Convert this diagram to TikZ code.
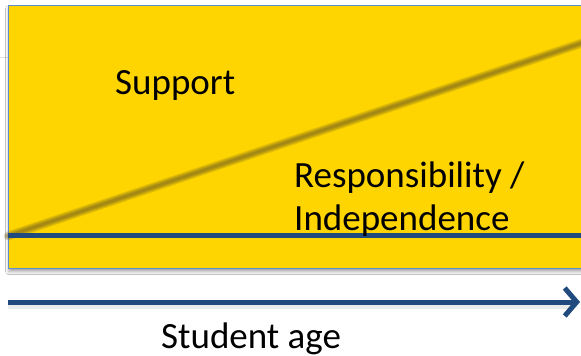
\documentclass[tikz,border=0pt]{standalone}
\usepackage{fontspec}
\setmainfont{Carlito}
\usetikzlibrary{arrows.meta,shadows.blur}
\definecolor{gold}{RGB}{254,213,0}
\definecolor{navy}{RGB}{33,74,126}
\definecolor{edgeblue}{RGB}{96,142,205}
\definecolor{diag}{RGB}{120,100,30}
\begin{document}
\begin{tikzpicture}[x=1pt,y=-1pt,
  lbl/.style={font=\fontsize{37}{43}\selectfont, inner sep=0pt, anchor=base west, text=black},
  panelbox/.style={draw=edgeblue, fill=gold, line width=1.3pt, inner sep=0pt, anchor=north west,
     blur shadow={shadow xshift=0pt, shadow yshift=-3pt, shadow blur radius=3pt, shadow opacity=35}},
  baseline/.style={draw=navy, line width=4.5pt},
  agearrow/.style={draw=navy, line width=5pt, -{Straight Barb[length=12pt,width=28pt]}},
  shade/.style={draw=diag, opacity=0.2, line cap=round}]
\useasboundingbox (0,0) rectangle (581,356);
\clip (0,0) rectangle (581,356);
\fill[white] (0,0) rectangle (581,356);
\coordinate (g1) at (0,57);
\coordinate (g2) at (8,57);
\draw[black!12, line width=0.8pt] (g1) -- (g2);
\node[panelbox, minimum width=600pt, minimum height=263pt] (panel) at (8,5) {};
% diagonal (blurred)
\coordinate (d1) at (8,236);
\coordinate (d2) at (600,37);
\foreach \w in {9,7,5,3.5,2} {\draw[shade, line width=\w pt] (d1) -- (d2);}
% horizontal line inside
\coordinate (h1) at (8,235.5);
\coordinate (h2) at (600,235.5);
\draw[baseline] (h1) -- (h2);
% arrow
\coordinate (a1) at (8,302);
\coordinate (a2) at (580,302);
\draw[black!15, line width=5pt, opacity=0.5] (8,306) -- (570,306);
\draw[agearrow] (a1) -- (a2);
% labels
\node[lbl] (sup) at (115,94) {Support};
\node[lbl] (resp) at (294,187) {Responsibility /};
\node[lbl] (indep) at (294,230) {Independence};
\node[lbl] (age) at (161,348) {Student age};
\end{tikzpicture}
\end{document}
